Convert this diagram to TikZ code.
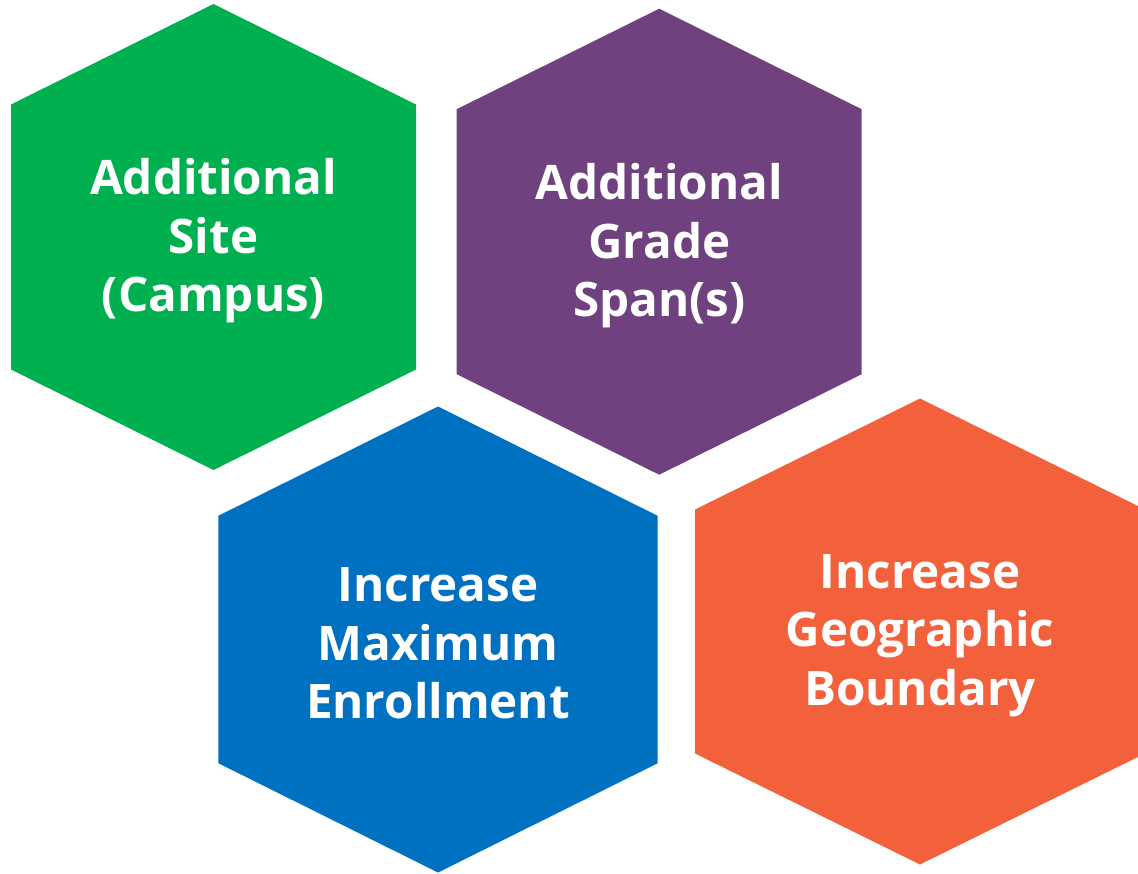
\documentclass[tikz,border=0pt]{standalone}
\usepackage{fontspec}
\setmainfont{Open Sans}
\usetikzlibrary{calc}
\definecolor{hexgreen}{HTML}{00AF50}
\definecolor{hexpurple}{HTML}{6F417E}
\definecolor{hexblue}{HTML}{0070C0}
\definecolor{hexorange}{HTML}{F2613C}
% centre, half width, shoulder height, colour
\newcommand{\hexfill}[4]{%
  \fill[#4] ($(#1)+(0,233)$) -- ($(#1)+(#2,#3)$) -- ($(#1)+(#2,-#3)$) -- ($(#1)+(0,-233)$)
    -- ($(#1)+(-#2,-#3)$) -- ($(#1)+(-#2,#3)$) -- cycle;}
\tikzset{
  hextext/.style={text=white,align=center,inner sep=0pt,yshift=-4pt,font=\fontsize{47.6}{58.5}\selectfont\bfseries},
}
\begin{document}
\begin{tikzpicture}[x=1pt,y=1pt]
    \useasboundingbox (0,0) rectangle (1138,-873);
    \clip (0,0) rectangle (1138,-873);
    \coordinate (site) at (213.5,-237);
    \coordinate (grade) at (659.2,-241.7);
    \coordinate (enrol) at (438,-639.5);
    \coordinate (geo) at (920,-631.5);
    \hexfill{site}{202.5}{132.5}{hexgreen}
    \hexfill{grade}{202.5}{132.5}{hexpurple}
    \hexfill{enrol}{219.7}{123.7}{hexblue}
    \hexfill{geo}{225}{122}{hexorange}
    \node[hextext] (sitetxt) at (site) {Additional\\Site\\(Campus)};
    \node[hextext] (gradetxt) at (grade) {Additional\\Grade\\Span(s)};
    \node[hextext] (enroltxt) at (enrol) {Increase\\Maximum\\Enrollment};
    \node[hextext] (geotxt) at (geo) {Increase\\Geographic\\Boundary};
\end{tikzpicture}
\end{document}
